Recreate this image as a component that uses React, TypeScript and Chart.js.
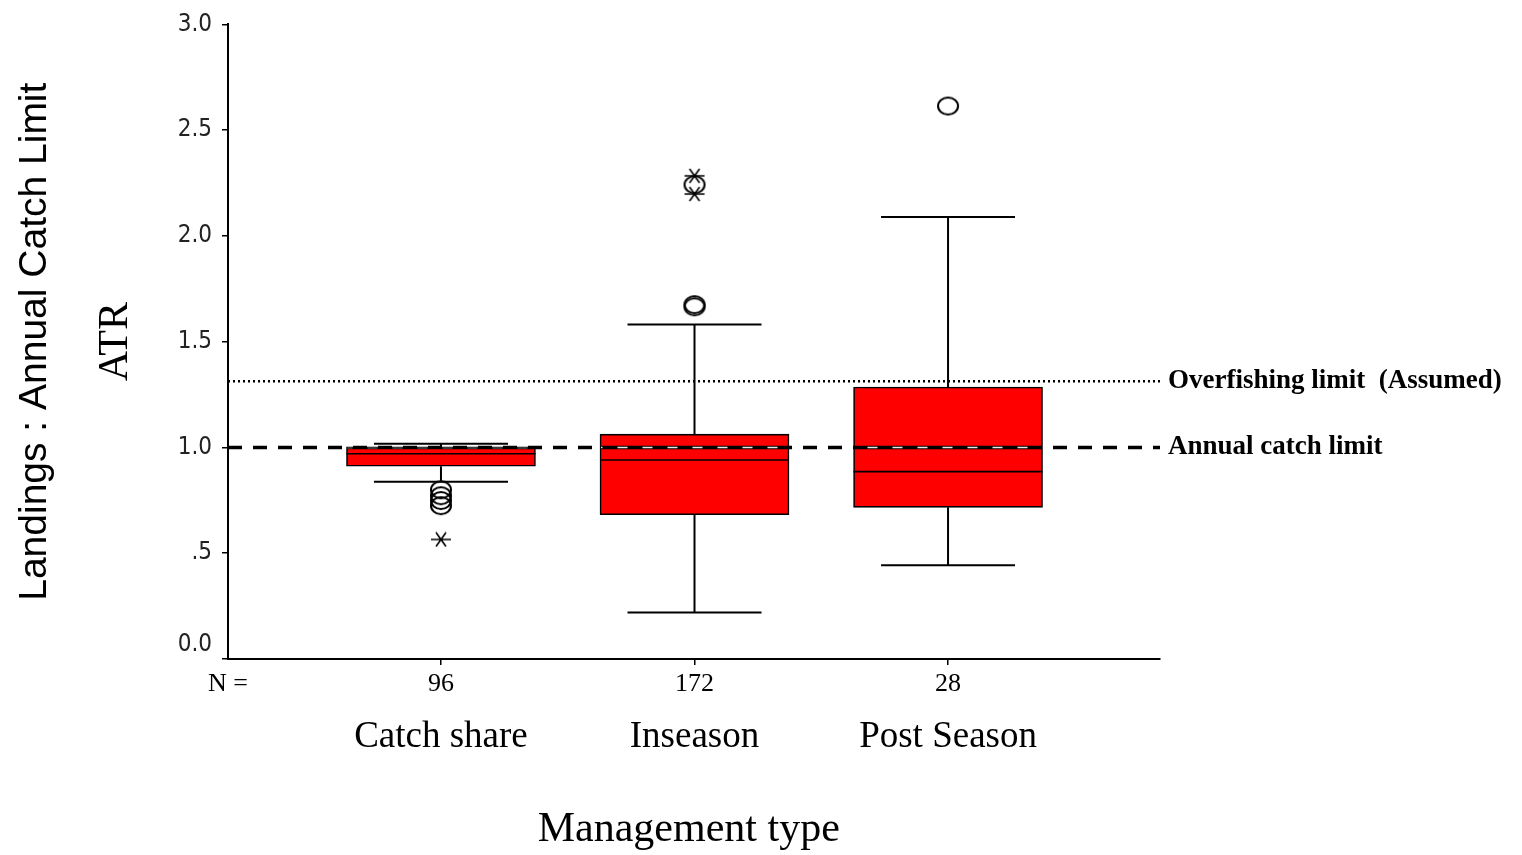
import React, { useEffect, useRef } from 'react';
import { Chart, registerables } from 'chart.js';

Chart.register(...registerables);

// ---- data ----
const categories = ['Catch share', 'Inseason', 'Post Season'];
const nLabels = ['96', '172', '28'];
const positions = [1, 2, 3];
const q1 = [0.911, 0.682, 0.717];
const medians = [0.97, 0.941, 0.886];
const q3 = [1.003, 1.063, 1.286];
const whiskerLow = [0.838, 0.22, 0.443];
const whiskerHigh = [1.017, 1.581, 2.09];
const outlierCat = [1, 1, 1, 1, 2, 2, 2, 3];
const outlierVal = [0.8, 0.772, 0.749, 0.725, 1.675, 1.665, 2.242, 2.614];
const extremeCat = [1, 2, 2];
const extremeVal = [0.565, 2.284, 2.198];
const yTicks = [0, 0.5, 1, 1.5, 2, 2.5, 3];
const refValues = [1.313, 1.0];
const refLabels = ['Overfishing limit  (Assumed)', 'Annual catch limit'];

const X_MIN = 0.16;
const X_MAX = 3.836;
const BOX_W = 189;
const CAP = 67;

function makeStar() {
  const c = document.createElement('canvas');
  c.width = 22;
  c.height = 16;
  const g = c.getContext('2d')!;
  g.strokeStyle = '#000';
  g.lineWidth = 1.6;
  g.beginPath();
  g.moveTo(1, 8);
  g.lineTo(21, 8);
  g.moveTo(6, 1);
  g.lineTo(16, 15);
  g.moveTo(16, 1);
  g.lineTo(6, 15);
  g.stroke();
  return c;
}

function makeCircle() {
  const c = document.createElement('canvas');
  c.width = 24;
  c.height = 21;
  const g = c.getContext('2d')!;
  g.strokeStyle = '#000';
  g.lineWidth = 2;
  g.beginPath();
  g.ellipse(12, 10.5, 10, 8.5, 0, 0, Math.PI * 2);
  g.stroke();
  return c;
}

const boxPlugin = {
  id: 'boxExtras',
  afterDatasetsDraw(chart: any) {
    const { ctx, chartArea } = chart;
    const x = chart.scales.x;
    const y = chart.scales.y;
    ctx.save();
    ctx.strokeStyle = '#000';
    positions.forEach((p, i) => {
      const cx = x.getPixelForValue(p);
      const yQ1 = y.getPixelForValue(q1[i]);
      const yQ3 = y.getPixelForValue(q3[i]);
      const yMed = y.getPixelForValue(medians[i]);
      const yLo = y.getPixelForValue(whiskerLow[i]);
      const yHi = y.getPixelForValue(whiskerHigh[i]);
      ctx.lineWidth = 2;
      ctx.setLineDash([]);
      ctx.beginPath();
      ctx.moveTo(cx, yQ3);
      ctx.lineTo(cx, yHi);
      ctx.moveTo(cx - CAP, yHi);
      ctx.lineTo(cx + CAP, yHi);
      ctx.moveTo(cx, yQ1);
      ctx.lineTo(cx, yLo);
      ctx.moveTo(cx - CAP, yLo);
      ctx.lineTo(cx + CAP, yLo);
      ctx.stroke();
      ctx.lineWidth = 1.6;
      ctx.beginPath();
      ctx.moveTo(cx - BOX_W / 2, yMed);
      ctx.lineTo(cx + BOX_W / 2, yMed);
      ctx.stroke();
    });

    // overfishing (dotted)
    const yOver = y.getPixelForValue(refValues[0]);
    ctx.lineWidth = 2.5;
    ctx.setLineDash([2, 3]);
    ctx.beginPath();
    ctx.moveTo(chartArea.left, yOver);
    ctx.lineTo(chartArea.right + 3, yOver);
    ctx.stroke();

    // annual catch limit (dashed)
    const yAcl = y.getPixelForValue(refValues[1]);
    ctx.lineWidth = 3.5;
    ctx.setLineDash([14, 11]);
    ctx.lineDashOffset = 0;
    ctx.beginPath();
    ctx.moveTo(chartArea.left, yAcl);
    ctx.lineTo(chartArea.right, yAcl);
    ctx.stroke();

    // inside boxes: outlined light dashes in the gaps
    ctx.save();
    ctx.beginPath();
    positions.forEach((p, i) => {
      const cx = x.getPixelForValue(p);
      const top = y.getPixelForValue(q3[i]);
      const bot = y.getPixelForValue(q1[i]);
      ctx.rect(cx - BOX_W / 2 + 1, top + 1, BOX_W - 2, bot - top - 2);
    });
    ctx.clip();
    ctx.setLineDash([12, 13]);
    ctx.lineDashOffset = -13.5;
    ctx.lineWidth = 3.5;
    ctx.strokeStyle = '#000';
    ctx.beginPath();
    ctx.moveTo(chartArea.left, yAcl);
    ctx.lineTo(chartArea.right, yAcl);
    ctx.stroke();
    ctx.setLineDash([10, 15]);
    ctx.lineDashOffset = -14.5;
    ctx.lineWidth = 1.6;
    ctx.strokeStyle = '#e6e6e6';
    ctx.beginPath();
    ctx.moveTo(chartArea.left, yAcl);
    ctx.lineTo(chartArea.right, yAcl);
    ctx.stroke();
    ctx.restore();

    // labels
    ctx.setLineDash([]);
    ctx.fillStyle = '#000';
    ctx.font = 'bold 27px "Liberation Serif"';
    ctx.textAlign = 'left';
    ctx.textBaseline = 'middle';
    ctx.fillText(refLabels[0], chartArea.right + 8, yOver);
    ctx.fillText(refLabels[1], chartArea.right + 8, yAcl);
    ctx.restore();
  },
};

export default function App() {
  const ref = useRef<HTMLCanvasElement | null>(null);

  useEffect(() => {
    if (!ref.current) return;
    const star = makeStar();
    const circ = makeCircle();
    const chart = new Chart(ref.current, {
      type: 'bar',
      data: {
        datasets: [
          {
            type: 'bar',
            data: positions.map((p, i) => ({ x: p, y: [q1[i], q3[i]] })) as any,
            backgroundColor: '#ff0000',
            borderColor: '#000',
            borderWidth: 1.6,
            borderSkipped: false,
            barThickness: BOX_W,
            order: 2,
          } as any,
          {
            type: 'scatter',
            data: outlierCat.map((c, i) => ({ x: c, y: outlierVal[i] })),
            pointStyle: circ,
            pointRadius: 10,
            showLine: false,
            order: 0,
          } as any,
          {
            type: 'scatter',
            data: extremeCat.map((c, i) => ({ x: c, y: extremeVal[i] })),
            pointStyle: star,
            pointRadius: 10,
            showLine: false,
            order: 0,
          } as any,
        ],
      },
      options: {
        animation: false,
        responsive: true,
        maintainAspectRatio: false,
        layout: { padding: { left: 0, right: 362, top: 22, bottom: 0 } },
        plugins: {
          legend: { display: false },
          tooltip: { enabled: false },
          title: {
            display: true,
            position: 'left',
            fullSize: false,
            text: 'Landings : Annual Catch Limit',
            color: '#000',
            font: { family: 'Liberation Sans', size: 39, weight: 'normal' },
            padding: { top: 12, bottom: 12 },
          },
        },
        scales: {
          x: {
            type: 'linear',
            position: 'bottom',
            min: X_MIN,
            max: X_MAX,
            offset: false,
            afterBuildTicks: (s: any) => {
              s.ticks = [{ value: X_MIN }, ...positions.map((v) => ({ value: v }))];
            },
            afterFit: (s: any) => {
              s.height = 48;
            },
            ticks: {
              autoSkip: false,
              maxRotation: 0,
              padding: 4,
              color: '#000',
              font: { family: 'Liberation Serif', size: 26 },
              callback: (_v: any, i: number) => (i === 0 ? 'N =' : nLabels[i - 1]),
            },
            grid: {
              offset: false,
              drawOnChartArea: false,
              drawTicks: true,
              tickLength: 6,
              lineWidth: 1.5,
              tickColor: (c: any) => (c.index === 0 ? 'rgba(0,0,0,0)' : '#000'),
            },
            border: { display: true, color: '#000', width: 2 },
          },
          x2: {
            type: 'linear',
            position: 'bottom',
            min: X_MIN,
            max: X_MAX,
            offset: false,
            afterBuildTicks: (s: any) => {
              s.ticks = positions.map((v) => ({ value: v }));
            },
            afterFit: (s: any) => {
              s.height = 148;
            },
            ticks: {
              autoSkip: false,
              maxRotation: 0,
              padding: 8,
              color: '#000',
              font: { family: 'Liberation Serif', size: 37 },
              callback: (_v: any, i: number) => categories[i],
            },
            grid: { display: false, drawTicks: false, drawOnChartArea: false },
            border: { display: false },
            title: {
              display: true,
              text: 'Management type\u00a0',
              color: '#000',
              font: { family: 'Liberation Serif', size: 42 },
              padding: { top: 0, bottom: 0 },
            },
          },
          y: {
            type: 'linear',
            min: 0,
            max: 3,
            afterBuildTicks: (s: any) => {
              s.ticks = yTicks.map((v) => ({ value: v }));
            },
            afterFit: (s: any) => {
              s.width = 228 - 70.8;
            },
            ticks: {
              padding: 10,
              color: '#222',
              font: { family: '"DejaVu Sans Condensed", "DejaVu Sans"', size: 24 },
              callback: (v: any) =>
                v === 0 ? ['0.0', ''] : v === 0.5 ? '.5' : Number(v).toFixed(1),
            },
            grid: {
              drawOnChartArea: false,
              drawTicks: true,
              tickLength: 6,
              lineWidth: 1.5,
              color: '#000',
            },
            border: { display: true, color: '#000', width: 2 },
            title: {
              display: true,
              text: 'ATR',
              color: '#000',
              font: { family: 'Liberation Serif', size: 42 },
              padding: { top: 20, bottom: 0 },
            },
          },
        },
      } as any,
      plugins: [boxPlugin],
    });
    return () => chart.destroy();
  }, []);

  return (
    <div style={{ position: 'absolute', left: 0, top: 0, width: 1522, height: 855, background: '#fff' }}>
      <canvas ref={ref} />
    </div>
  );
}
